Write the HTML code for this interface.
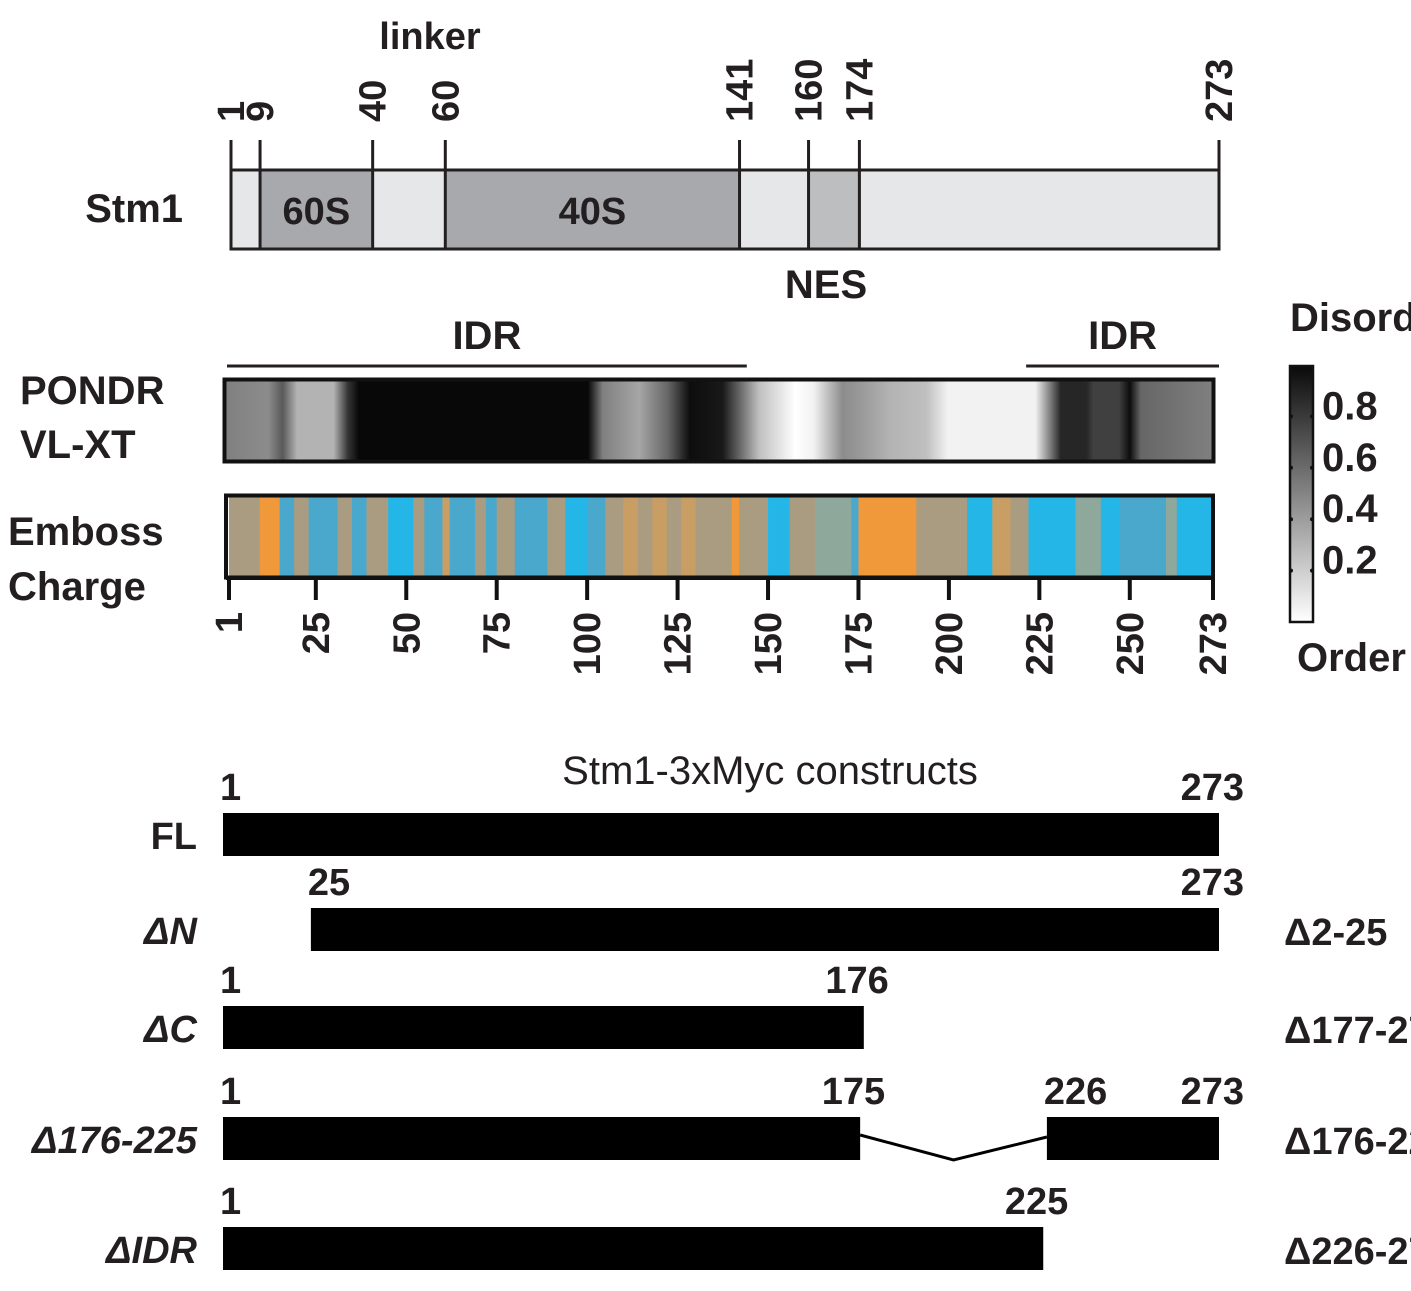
<!DOCTYPE html>
<html><head><meta charset="utf-8">
<style>
html,body{margin:0;padding:0;background:#fff;}
svg{display:block;}
text{font-family:"Liberation Sans Narrow","Liberation Sans",sans-serif;font-weight:bold;fill:#231f20;}
</style></head>
<body>
<svg id="fig" width="1411" height="1291" viewBox="0 0 1411 1291" xmlns="http://www.w3.org/2000/svg">
<defs>
<linearGradient id="pondrGrad" x1="0" x2="1" y1="0" y2="0"></linearGradient>
<linearGradient id="cbarGrad" x1="0" x2="0" y1="0" y2="1">
<stop offset="0" stop-color="#0a0a0a"/><stop offset="1" stop-color="#ffffff"/>
</linearGradient>
</defs>
<g id="domain"></g>
<g id="pondr"></g>
<g id="emboss"></g>
<g id="cbar"></g>
<g id="constructs"></g>
</svg>
<script>
// ---------- data ----------
const domainBounds = [1, 9, 40, 60, 141, 160, 174, 273];
const domainKinds = ["light","60S","light","40S","light","NES","light"];
const pondrResidues = [1,13,17,21,31,35,38,101,105,115,123,129,138,148,158,163,171,176,184,194,200,224,228,231,238,240,247,250,253,273];
const pondrValues   = [0.5,0.45,0.65,0.3,0.3,0.8,0.97,0.97,0.5,0.35,0.6,0.95,0.9,0.25,0.0,0.05,0.45,0.4,0.3,0.25,0.05,0.05,0.5,0.85,0.85,0.75,0.75,0.95,0.6,0.5];
const chargeStarts = [1,9.5,15,19,23,27,31,35,39,45,52,55,60,62,69,72,75,80,89,94,100,105,110,114,118,122,126,130,140,142,150,156,163,173,175,191,205,212,217,222,235,242,247,260,263];
const chargeValues = [0.3,1,-0.5,0.3,-0.5,-0.5,0.3,-0.5,0.3,-1,0.3,-0.5,0.6,-0.5,0.3,-0.5,0.3,-0.5,0.3,-1,-0.5,0.3,0.6,0.3,0.6,0.3,0.6,0.3,1,0.3,-1,0.3,0,-0.5,1,0.3,-1,0.6,0.3,-1,0,-1,-0.5,0,-1];
const axisTicks = [1,25,50,75,100,125,150,175,200,225,250,273];
const cbarTicks = [0.8,0.6,0.4,0.2];
const idrRanges = [[1,143],[221,273]];
const constructNames = ["FL","ΔN","ΔC","Δ176-225","ΔIDR"];
const constructSegments = [[[1,273]],[[25,273]],[[1,176]],[[1,175],[226,273]],[[1,225]]];
const constructLabels = [["1","273"],["25","273"],["1","176"],["1","175","226","273"],["1","225"]];
const constructRight = ["","Δ2-25","Δ177-273","Δ176-225","Δ226-273"];

const NS = "http://www.w3.org/2000/svg";
function mk(parent, tag, attrs, txt){
  const e = document.createElementNS(NS, tag);
  for (const k in attrs) e.setAttribute(k, attrs[k]);
  if (txt !== undefined) e.textContent = txt;
  parent.appendChild(e);
  return e;
}
// axis functions
const xDomain = r => 231 + (r-1)*(1219-231)/272;
const xTrack  = r => 229 + (r-1)*(1213-229)/272;
const xCons   = r => 223 + (r-1)*(1219-223)/272;
const yCbar   = v => 622 - v*(622-365);

// ---------- domain map ----------
const dm = document.getElementById('domain');
const fills = {light:"#e6e7e8", "60S":"#a7a9ac", "40S":"#a7a9ac", NES:"#bcbec0"};
for (let i=0;i<domainKinds.length;i++){
  const x0 = xDomain(domainBounds[i]), x1 = xDomain(domainBounds[i+1]);
  const r = mk(dm,'rect',{x:x0,y:170,width:x1-x0,height:79,fill:fills[domainKinds[i]]});
  
  
  if (domainKinds[i]==="60S"||domainKinds[i]==="40S"){
    const t = mk(dm,'text',{x:(x0+x1)/2,y:224,'text-anchor':'middle','font-size':38},domainKinds[i]);
    
    
  }
}
mk(dm,'rect',{x:231,y:170,width:988,height:79,fill:"none",stroke:"#231f20","stroke-width":3});
domainBounds.forEach(b=>{
  const x = xDomain(b);
  const l = mk(dm,'line',{x1:x,x2:x,y1:140,y2:249,stroke:"#231f20","stroke-width":3});
  
  
  const t = mk(dm,'text',{x:0,y:0,'font-size':38,transform:`translate(${x+13},122) rotate(-90)`},String(b));
  
  
});
let t;
t = mk(dm,'text',{x:430,y:49,'text-anchor':'middle','font-size':38},"linker");
 
t = mk(dm,'text',{x:826,y:298,'text-anchor':'middle','font-size':40},"NES");
 
t = mk(dm,'text',{x:183,y:222,'text-anchor':'end','font-size':40},"Stm1");
 

// ---------- PONDR ----------
const pg = document.getElementById('pondrGrad');
pondrResidues.forEach((r,i)=>{
  const g = Math.round((1-pondrValues[i])*255);
  mk(pg,'stop',{offset:((r-1)/272).toFixed(4),'stop-color':`rgb(${g},${g},${g})`});
});
const pd = document.getElementById('pondr');
idrRanges.forEach((rg,i)=>{
  const x0 = xDomain(rg[0])-4, x1 = xDomain(rg[1]);
  const l = mk(pd,'line',{x1:x0,x2:x1,y1:366,y2:366,stroke:"#231f20","stroke-width":3});
   
  const tt = mk(pd,'text',{x:(x0+x1)/2,y:349,'text-anchor':'middle','font-size':40},"IDR");
   
});
const pr = mk(pd,'rect',{x:224.5,y:379.5,width:989,height:82,fill:"url(#pondrGrad)",stroke:"#111","stroke-width":4});
 
t = mk(pd,'text',{x:20,y:404,'font-size':40},"PONDR");
 
t = mk(pd,'text',{x:20,y:458,'font-size':40},"VL-XT");
 

// ---------- Emboss ----------
const em = document.getElementById('emboss');
function chargeColor(v){
  const stops=[[-1,[37,182,232]],[-0.5,[74,168,204]],[0,[143,168,156]],[0.3,[169,156,128]],[0.6,[200,158,100]],[1,[240,153,58]]];
  for(let i=0;i<stops.length-1;i++){
    if(v<=stops[i+1][0]){const a=stops[i],b=stops[i+1];const f=(v-a[0])/(b[0]-a[0]);
      return `rgb(${a[1].map((c,j)=>Math.round(c+(b[1][j]-c)*f)).join(',')})`;}
  }
  return 'rgb(240,153,58)';
}
chargeStarts.forEach((s,i)=>{
  const e = (i+1<chargeStarts.length)?chargeStarts[i+1]:273;
  const x0 = Math.max(226,xTrack(s)), x1 = Math.min(1212,xTrack(e));
  const c = mk(em,'rect',{x:x0,y:496,width:x1-x0+0.6,height:81,fill:chargeColor(chargeValues[i])});
  
  
});
mk(em,'rect',{x:226,y:495.5,width:987,height:82,fill:"none",stroke:"#111","stroke-width":4});
mk(em,'line',{x1:226,x2:1213,y1:578,y2:578,stroke:"#111","stroke-width":4});
axisTicks.forEach(v=>{
  const x = xTrack(v);
  const l = mk(em,'line',{x1:x,x2:x,y1:578,y2:600,stroke:"#111","stroke-width":4});
   
  const tx = mk(em,'text',{x:0,y:0,'font-size':38,'text-anchor':'end',transform:`translate(${x+13},612) rotate(-90)`},String(v));
   
});
t = mk(em,'text',{x:8,y:545,'font-size':40},"Emboss");
 
t = mk(em,'text',{x:8,y:600,'font-size':40},"Charge");
 

// ---------- colorbar ----------
const cb = document.getElementById('cbar');
const cr = mk(cb,'rect',{x:1290,y:366,width:23,height:256,fill:"url(#cbarGrad)",stroke:"#111","stroke-width":2.5});
 
cbarTicks.forEach(v=>{
  const y = yCbar(v);
  mk(cb,'circle',{cx:1291,cy:y,r:2,fill:"#111"});
  mk(cb,'circle',{cx:1312,cy:y,r:2,fill:"#111"});
  const tx = mk(cb,'text',{x:1322,y:y+3,'font-size':40},v.toFixed(1));
   
});
t = mk(cb,'text',{x:1290,y:331,'font-size':40},"Disorder");
 
t = mk(cb,'text',{x:1297,y:671,'font-size':40},"Order");
 

// ---------- constructs ----------
const cs = document.getElementById('constructs');
t = mk(cs,'text',{x:770,y:784,'text-anchor':'middle','font-size':40,'font-weight':'normal',style:'font-weight:normal'},"Stm1-3xMyc constructs");
 
const rowTop = [813,908,1006,1117,1227];
constructNames.forEach((n,i)=>{
  const y = rowTop[i];
  const lab = mk(cs,'text',{x:197,y:y+36,'text-anchor':'end','font-size':38,'font-style':n==="FL"?'normal':'italic'},n);
   
  const segs = constructSegments[i];
  const labs = constructLabels[i];
  let li = 0;
  segs.forEach((sg,j)=>{
    const x0 = xCons(sg[0]), x1 = xCons(sg[1]);
    const b = mk(cs,'rect',{x:x0,y:y,width:x1-x0,height:43,fill:"#000"});
     
    const a = mk(cs,'text',{x:x0-3,y:y-13,'font-size':38},labs[li++]);
     
    const c = mk(cs,'text',{x:x1+25,y:y-13,'font-size':38,'text-anchor':'end'},labs[li++]);
     
  });
  if (segs.length>1){
    const xa = xCons(segs[0][1]), xb = xCons(segs[1][0]);
    const p = mk(cs,'polyline',{points:`${xa},${y+18} ${(xa+xb)/2},${y+43} ${xb},${y+20}`,fill:"none",stroke:"#000","stroke-width":3});
     
  }
  if (constructRight[i]){
    const r = mk(cs,'text',{x:1284,y:y+37,'font-size':38},constructRight[i]);
     
  }
});
</script>
</body></html>
